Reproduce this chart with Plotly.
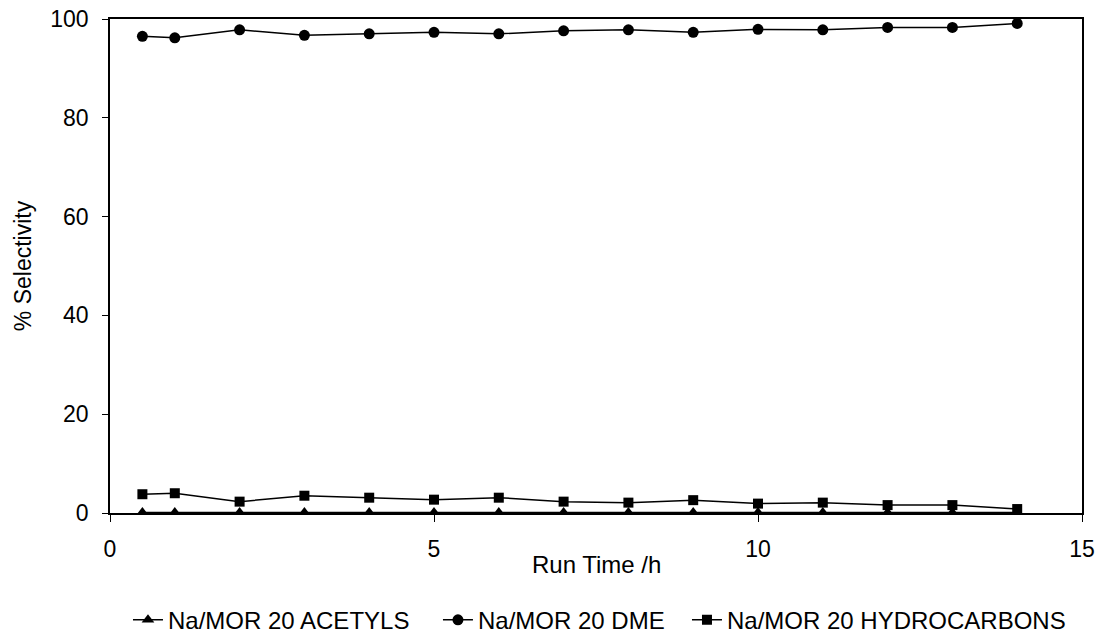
import plotly.graph_objects as go

run_time = [0.5, 1, 2, 3, 4, 5, 6, 7, 8, 9, 10, 11, 12, 13, 14]
acetyls = [0.1, 0.1, 0.1, 0.1, 0.1, 0.1, 0.1, 0.1, 0.1, 0.1, 0.1, 0.1, 0.1, 0.1, 0.1]
dme = [96.5, 96.2, 97.8, 96.7, 97.0, 97.3, 97.0, 97.6, 97.8, 97.3, 97.9, 97.8, 98.3, 98.3, 99.1]
hydrocarbons = [3.8, 4.0, 2.3, 3.5, 3.1, 2.7, 3.1, 2.3, 2.1, 2.6, 1.9, 2.1, 1.6, 1.6, 0.8]

x_ticks = [0, 5, 10, 15]
y_ticks = [0, 20, 40, 60, 80, 100]

font = "Liberation Sans, Arial, sans-serif"

fig = go.Figure()
fig.add_trace(go.Scatter(x=run_time, y=acetyls, mode="lines+markers", name="Na/MOR 20 ACETYLS",
                         line=dict(color="black", width=1.5), legend="legend",
                         marker=dict(symbol="triangle-up", size=11, color="black")))
fig.add_trace(go.Scatter(x=run_time, y=dme, mode="lines+markers", name="Na/MOR 20 DME",
                         line=dict(color="black", width=1.5), legend="legend2",
                         marker=dict(symbol="circle", size=11, color="black")))
fig.add_trace(go.Scatter(x=run_time, y=hydrocarbons, mode="lines+markers", name="Na/MOR 20 HYDROCARBONS",
                         line=dict(color="black", width=1.5), legend="legend3",
                         marker=dict(symbol="square", size=10, color="black")))

leg = dict(orientation="h", xanchor="left", y=-0.217, yanchor="middle",
           font=dict(size=24), bgcolor="rgba(0,0,0,0)")

fig.update_layout(
    width=1105, height=634,
    margin=dict(l=110, r=23, t=19, b=121, autoexpand=False),
    paper_bgcolor="white", plot_bgcolor="white",
    font=dict(family=font, size=22, color="black"),
    showlegend=True,
    legend=dict(leg, x=0.0185),
    legend2=dict(leg, x=0.3374),
    legend3=dict(leg, x=0.5936),
    xaxis=dict(range=[0, 15], tickvals=x_ticks, showgrid=False, zeroline=False,
               showline=True, linecolor="black", linewidth=1.5, mirror=True,
               ticks="outside", ticklen=7, tickcolor="black",
               tickfont=dict(size=23), ticklabelstandoff=8),
    yaxis=dict(range=[0, 100], tickvals=y_ticks, showgrid=False, zeroline=False,
               showline=True, linecolor="black", linewidth=1.5, mirror=True,
               ticks="outside", ticklen=6, tickcolor="black",
               tickfont=dict(size=23), ticklabelstandoff=9,
               title=dict(text="% Selectivity", font=dict(size=23), standoff=12)),
    annotations=[dict(text="Run Time /h", xref="paper", yref="paper", x=0.5, y=-0.104,
                      xanchor="center", yanchor="middle", showarrow=False,
                      font=dict(size=24))],
)

fig.write_html("out.html")
